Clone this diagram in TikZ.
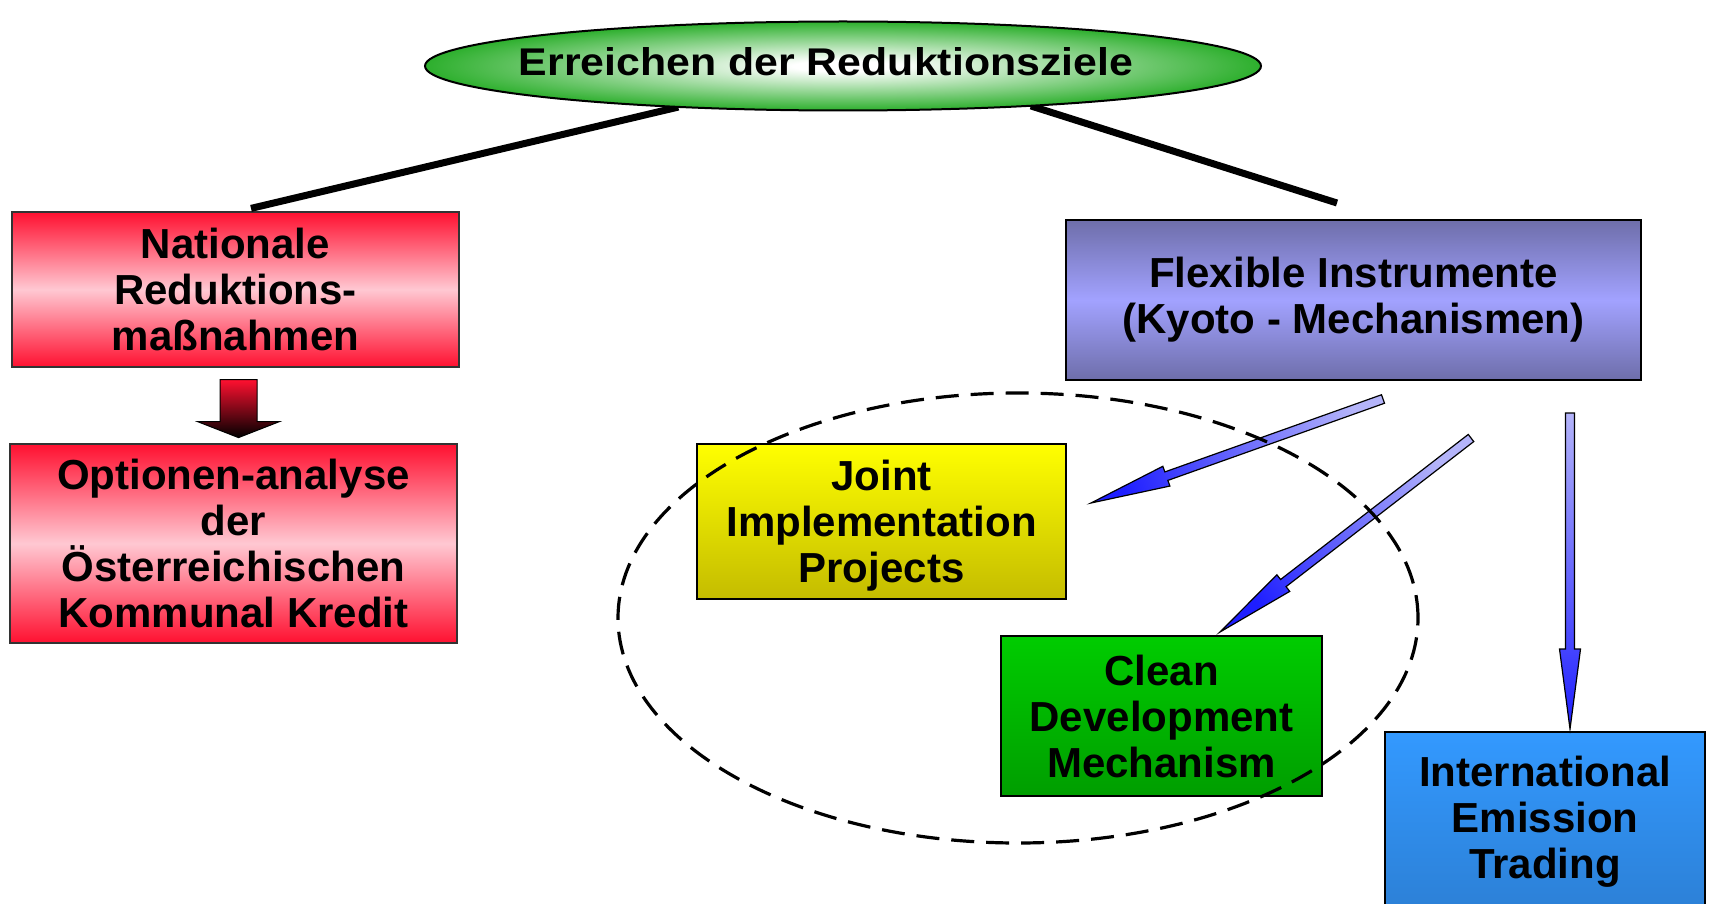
\documentclass[tikz,border=0pt]{standalone}
\usepackage{fontspec}
\usepackage{graphicx}
\setmainfont{Liberation Sans}
\usetikzlibrary{shapes.geometric,calc}
\definecolor{redA}{HTML}{FF1030}
\definecolor{pinkA}{HTML}{FFC8D2}
\definecolor{purA}{HTML}{6E6EAA}
\definecolor{purB}{HTML}{A2A2FF}
\definecolor{yelA}{HTML}{FFFF00}
\definecolor{yelB}{HTML}{C4BC00}
\definecolor{grnA}{HTML}{00CC00}
\definecolor{grnB}{HTML}{009E00}
\definecolor{bluA}{HTML}{3399FF}
\definecolor{bluB}{HTML}{2C80D6}
\definecolor{elgreen}{HTML}{10A410}
\definecolor{lavA}{HTML}{B4B4FA}
\definecolor{blueC}{HTML}{1E1EFF}
\pgfdeclareradialshading{ellshade}{\pgfpoint{0bp}{0bp}}{color(0bp)=(white); color(3bp)=(white); color(28bp)=(elgreen); color(50bp)=(elgreen)}
\tikzset{
  txt/.style={font=\fontsize{42}{46}\selectfont\bfseries, align=center, text=black, inner sep=0pt},
  box/.style={txt, draw=black, rectangle, line width=2pt},
  redbox/.style={box, line width=1.2pt, draw=black!80, top color=redA, bottom color=redA, middle color=pinkA},
  purbox/.style={box, top color=purA, bottom color=purA, middle color=purB},
  yelbox/.style={box, top color=yelA, bottom color=yelB},
  grnbox/.style={box, top color=grnA, bottom color=grnB},
  blubox/.style={box, top color=bluA, bottom color=bluB},
  ellgeom/.style={ellipse, inner sep=0pt, minimum width=836pt, minimum height=89pt},
  ellbox/.style={ellgeom, draw=black, line width=2pt, shade, shading=ellshade},
  thickline/.style={line width=7pt, black},
  kyarr/.style={draw=black, line width=1.2pt, line join=miter, top color=lavA, bottom color=blueC},
  grpline/.style={draw=black, ellipse, dash pattern=on 23pt off 12pt, line width=3.2pt, inner sep=0pt, minimum width=800pt, minimum height=450pt}
}
\newcommand\kyarrow[2]{%
  \pgfmathanglebetweenpoints{\pgfpointanchor{#1}{center}}{\pgfpointanchor{#2}{center}}%
  \pgfmathsetmacro\kyshang{\pgfmathresult+90}%
  \path ($(#2)!80pt!(#1)$) coordinate (#1-hb);
  \shade[kyarr, shading angle=\kyshang]
    ($(#1)!4.5pt!90:(#2)$) -- ($(#1-hb)!4.5pt!90:(#2)$) -- ($(#1-hb)!10.5pt!90:(#2)$) -- (#2)
    -- ($(#1-hb)!10.5pt!-90:(#2)$) -- ($(#1-hb)!4.5pt!-90:(#2)$) -- ($(#1)!4.5pt!-90:(#2)$) -- cycle;
}
\begin{document}
\begin{tikzpicture}[x=1pt, y=-1pt]
\useasboundingbox (0,0) rectangle (1710,904);

% boxes
\node[redbox, minimum width=447pt, minimum height=155pt] (nat) at (235.5,289.5) {Nationale\\Reduktions-\\maßnahmen};
\node[redbox, minimum width=447pt, minimum height=199pt] (opt) at (233.5,543.5) {Optionen-analyse\\der\\Österreichischen\\Kommunal Kredit};
\node[purbox, minimum width=575pt, minimum height=160pt] (flex) at (1353.5,300) {Flexible Instrumente\\(Kyoto - Mechanismen)};
\node[yelbox, minimum width=369pt, minimum height=155pt] (jip) at (881.5,521.5) {};
\node[txt] (jiptext) at ($(jip.center)+(0,4)$) {Joint\\Implementation\\Projects};
\node[grnbox, minimum width=321pt, minimum height=160pt] (cdm) at (1161.5,716) {Clean\\Development\\Mechanism};
\node[blubox, minimum width=320pt, minimum height=180pt] (iet) at (1545,822) {International\\Emission\\Trading};

% top ellipse and connecting lines
\node[ellgeom] (goal) at (843,66) {};
\draw[thickline] (goal.194.5) -- ($(nat.north)+(15.5,-3)$);
\draw[thickline] (goal.-12) -- ($(flex.north)+(-16.5,-16)$);
\node[ellbox] (goalshape) at (goal.center) {};
\node[txt] (goaltext) at (826,61.5) {\scalebox{1.02}[0.92]{Erreichen der Reduktionsziele}};

% red block arrow
\coordinate (rda) at ($(nat.south)+(3,12)$);
\shade[top color=redA, bottom color=black, draw=black, line width=1pt, line join=miter]
  ($(rda)+(-18.5,0)$) -- ($(rda)+(18.5,0)$) -- ($(rda)+(18.5,42)$) -- ($(rda)+(41,42)$)
  -- ($(rda)+(0,58)$) -- ($(rda)+(-41,42)$) -- ($(rda)+(-18.5,42)$) -- cycle;

% blue arrows
\coordinate (a1) at ($(flex.south)+(29.5,18)$);
\coordinate (a1t) at ($(jip.east)+(24,-18.5)$);
\coordinate (a2) at ($(flex.south)+(117.5,57)$);
\coordinate (a2t) at ($(cdm.north)+(58.5,-3)$);
\coordinate (a3) at ($(flex.south)+(216.5,32)$);
\coordinate (a3t) at ($(iet.north)+(25,-2)$);
\kyarrow{a1}{a1t}
\kyarrow{a2}{a2t}
\kyarrow{a3}{a3t}

% dashed group ellipse
\node[grpline] (grp) at (1018,618) {};
\end{tikzpicture}
\end{document}
